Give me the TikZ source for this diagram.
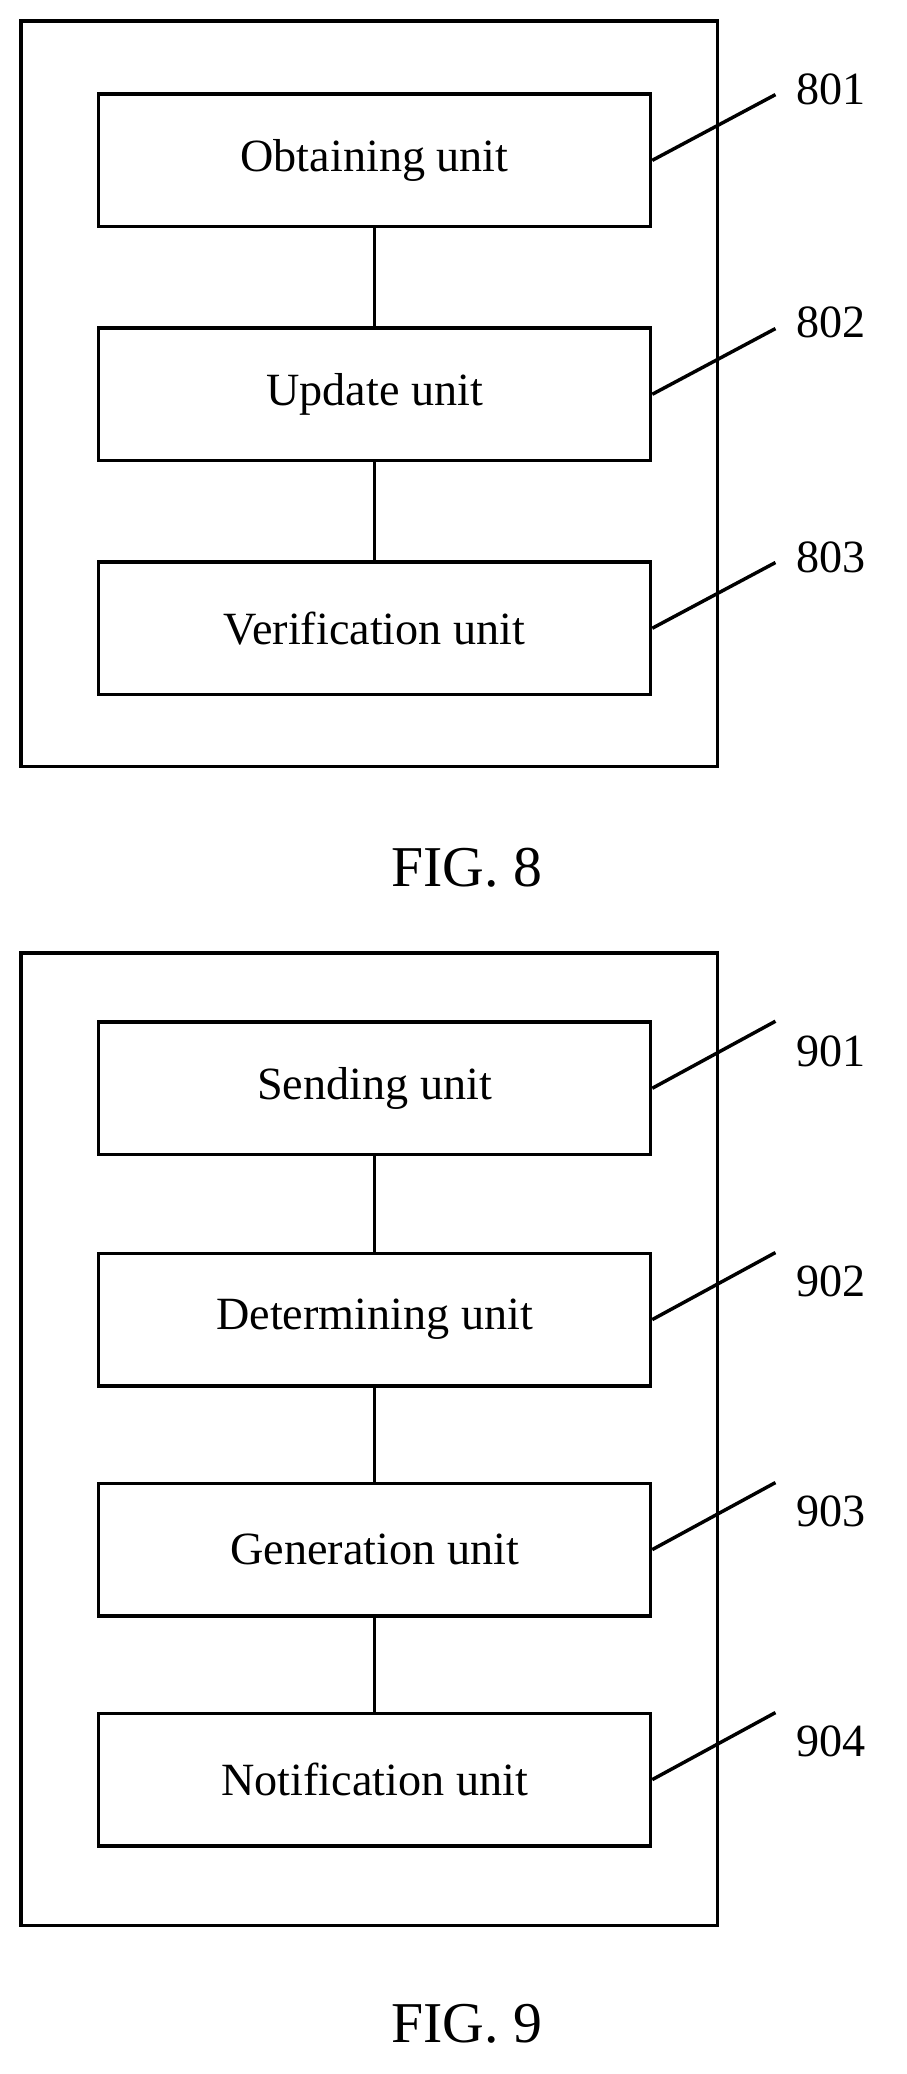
\documentclass[tikz,border=0pt]{standalone}
\usepackage{fontspec}
\setmainfont{Liberation Serif}
\usetikzlibrary{positioning}
\begin{document}
\begin{tikzpicture}[x=0.02cm,y=-0.02cm,line width=1.5pt,
    unit/.style={draw,minimum width=8.4cm,minimum height=2.02cm,font=\fontsize{20}{24}\selectfont},
    tag/.style={font=\fontsize{20}{24}\selectfont},
    fig/.style={font=\fontsize{25}{30}\selectfont}]
    \useasboundingbox (0,0) rectangle (690,1578);
    % FIG. 8
    \draw (16,16) rectangle (546,583);
    \node[unit] (A) at (285,122) {Obtaining unit};
    \node[unit] (B) at (285,300) {Update unit};
    \node[unit] (C) at (285,478) {Verification unit};
    \draw (A) -- (B);
    \draw (B) -- (C);
    \node[tag] (A1) at (632,68) {801};
    \node[tag] (B1) at (632,245) {802};
    \node[tag] (C1) at (632,424) {803};
    \draw (A.east) -- (590,72);
    \draw (B.east) -- (590,250);
    \draw (C.east) -- (590,428);
    \node[fig] (F8) at (355,660) {FIG. 8};
    % FIG. 9
    \draw (16,725) rectangle (546,1465);
    \node[unit] (P) at (285,828) {Sending unit};
    \node[unit] (Q) at (285,1004) {Determining unit};
    \node[unit] (R) at (285,1179) {Generation unit};
    \node[unit] (S) at (285,1354) {Notification unit};
    \draw (P) -- (Q);
    \draw (Q) -- (R);
    \draw (R) -- (S);
    \node[tag] (P1) at (632,800) {901};
    \node[tag] (Q1) at (632,975) {902};
    \node[tag] (R1) at (632,1150) {903};
    \node[tag] (S1) at (632,1325) {904};
    \draw (P.east) -- (590,777);
    \draw (Q.east) -- (590,953);
    \draw (R.east) -- (590,1128);
    \draw (S.east) -- (590,1303);
    \node[fig] (F9) at (355,1540) {FIG. 9};
\end{tikzpicture}
\end{document}
